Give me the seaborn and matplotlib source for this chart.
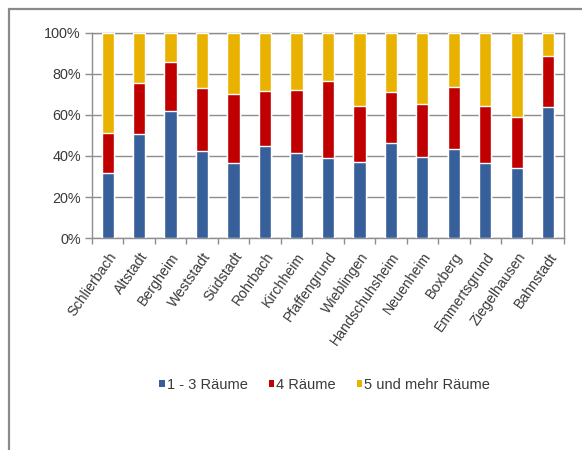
import numpy as np
import pandas as pd
import matplotlib
matplotlib.use("Agg")
import matplotlib.pyplot as plt
import seaborn as sns
from matplotlib.lines import Line2D
from matplotlib.patches import Patch
from matplotlib.ticker import PercentFormatter, FixedLocator

# ─── Data (shares in %) ─────────────────────────────────────────────────────
districts = ["Schlierbach", "Altstadt", "Bergheim", "Weststadt", "Südstadt",
             "Rohrbach", "Kirchheim", "Pfaffengrund", "Wieblingen",
             "Handschuhsheim", "Neuenheim", "Boxberg", "Emmertsgrund",
             "Ziegelhausen", "Bahnstadt"]
rooms_1_3 = [31.7, 50.7, 61.8, 42.3, 36.4, 44.9, 41.6, 39.0, 36.9, 46.3, 39.7, 43.3, 36.4, 34.3, 63.9]
rooms_4 = [19.5, 24.9, 24.2, 31.0, 33.7, 27.0, 30.7, 37.4, 27.5, 24.9, 25.7, 30.5, 28.0, 24.7, 24.7]
rooms_5 = [48.8, 24.4, 14.0, 26.7, 29.9, 28.1, 27.7, 23.6, 35.6, 28.8, 34.6, 26.2, 35.6, 41.0, 11.4]
series_names = ["1 - 3 Räume", "4 Räume", "5 und mehr Räume"]
colors = ["#37609A", "#C00000", "#EAB200"]

# ─── Style ──────────────────────────────────────────────────────────────────
sns.set_theme(style="white")
plt.rcParams["font.family"] = ["Liberation Sans", "DejaVu Sans"]
text_col = "#3a3a3a"
grid_col = "#8e8e8e"

df = pd.DataFrame({"district": districts,
                   "s1": rooms_1_3, "s2": rooms_4, "s3": rooms_5})
df["c1"] = df["s1"]
df["c2"] = df["s1"] + df["s2"]
df["c3"] = df["c2"] + df["s3"]

fig = plt.figure(figsize=(5.82, 4.5), dpi=100)
ax = fig.add_axes([0.158, 0.471, 0.811, 0.456])

# stacked bars: draw cumulative totals back-to-front
for col, c in zip(["c3", "c2", "c1"], colors[::-1]):
    sns.barplot(data=df, x="district", y=col, color=c, width=0.39,
                saturation=1, ax=ax, zorder=3)

ax.set_ylim(0, 100)
ax.set_xlim(-0.5, len(districts) - 0.5)
ax.yaxis.set_major_locator(FixedLocator([0, 20, 40, 60, 80, 100]))
ax.yaxis.set_major_formatter(PercentFormatter(decimals=0))
ax.grid(axis="y", color=grid_col, linewidth=1.0, zorder=0)
ax.set_axisbelow(True)
ax.set_xlabel("")
ax.set_ylabel("")

for side in ["left", "right", "bottom", "top"]:
    ax.spines[side].set_visible(True)
    ax.spines[side].set_color(grid_col)
    ax.spines[side].set_linewidth(1.0)

# category ticks between bars, labels at bar centres
ax.set_xticks(np.arange(len(districts)))
ax.set_xticklabels(districts, rotation=55, ha="right", rotation_mode="anchor",
                   fontsize=10.2, color=text_col)
ax.set_xticks(np.arange(len(districts) + 1) - 0.5, minor=True)
ax.tick_params(axis="x", which="major", length=0, pad=8.5)
ax.tick_params(axis="x", which="minor", length=4, color=grid_col, width=1, direction="out")
ax.tick_params(axis="y", length=5, color=grid_col, width=1, direction="out",
               labelsize=10.4, labelcolor=text_col, pad=3)
ax.tick_params(bottom=True, left=True, which="both")

# legend
handles = [Patch(facecolor=c, edgecolor="none") for c in colors]
fig.legend(handles, series_names, loc="center", bbox_to_anchor=(0.558, 0.144),
           ncol=3, frameon=False, fontsize=10.5, handlelength=0.36, handleheight=0.36,
           handletextpad=0.15, columnspacing=1.45, labelcolor=text_col)

# outer chart frame (only top and left edges visible)
x0, y0 = 9 / 582, 1 - 9 / 450
fig.add_artist(Line2D([x0, x0], [0, y0], color="#8a8a8a", linewidth=1.6,
                      transform=fig.transFigure))
fig.add_artist(Line2D([x0, 1], [y0, y0], color="#8a8a8a", linewidth=1.6,
                      transform=fig.transFigure))

fig.savefig("out.png", dpi=100)
